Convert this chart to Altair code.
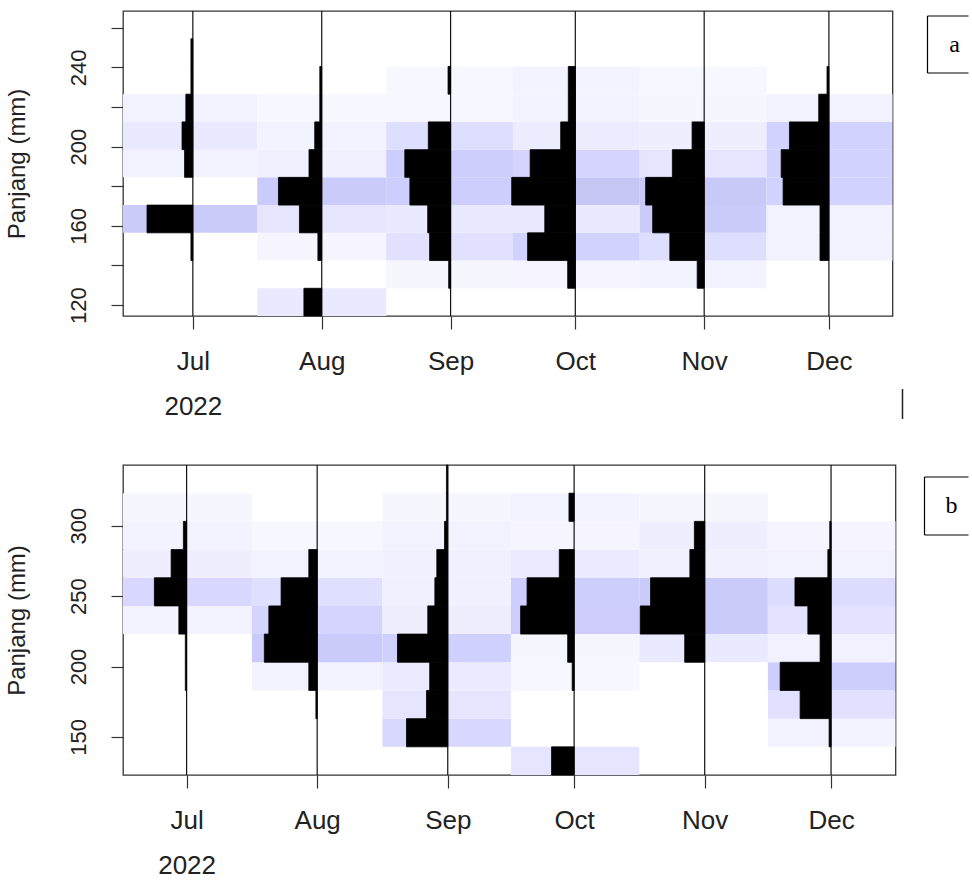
import altair as alt
import pandas as pd

# ---------------- data ----------------
SAMPLE_DATES = ["2022-07-01", "2022-08-01", "2022-09-01", "2022-10-01", "2022-11-01", "2022-12-01"]
MONTH_NAMES = ["Jul", "Aug", "Sep", "Oct", "Nov", "Dec"]
YEAR = "2022"
Y_TITLE = "Panjang (mm)"

# Panel a : length-class mid points (mm)
A_CLASS_MID = [121.5, 135.5, 149.5, 163.5, 177.5, 191.5, 205.5, 219.5, 233.5, 247.5, 261.5]
# relative frequency per class (None = no catch) for Jul..Dec
A_FREQ_JUL = [None, None, 0.03, 0.72, None, 0.13, 0.17, 0.11, 0.03, 0.03, None]
A_FREQ_AUG = [0.28, None, 0.06, 0.35, 0.68, 0.20, 0.11, 0.03, 0.03, None, None]
A_FREQ_SEP = [None, 0.03, 0.33, 0.36, 0.64, 0.72, 0.35, None, 0.04, None, None]
A_FREQ_OCT = [None, 0.12, 0.75, 0.48, 1.00, 0.71, 0.23, 0.11, 0.11, None, None]
A_FREQ_NOV = [None, 0.11, 0.54, 0.81, 0.92, 0.50, 0.19, None, None, None, None]
A_FREQ_DEC = [None, None, 0.14, 0.14, 0.72, 0.75, 0.62, 0.16, 0.03, None, None]
# restructured score (background shading) for Jul..Dec
A_SCORE_JUL = [0, 0, 0, 0.60, 0, 0.06, 0.15, 0.06, 0, 0, 0]
A_SCORE_AUG = [0.15, 0, 0.04, 0.20, 0.60, 0.08, 0.05, 0.02, 0, 0, 0]
A_SCORE_SEP = [0, 0.03, 0.25, 0.15, 0.55, 0.55, 0.30, 0.02, 0.02, 0, 0]
A_SCORE_OCT = [0, 0.04, 0.48, 0.15, 0.70, 0.45, 0.12, 0.05, 0.05, 0, 0]
A_SCORE_NOV = [0, 0.05, 0.30, 0.60, 0.65, 0.20, 0.10, 0.03, 0.02, 0, 0]
A_SCORE_DEC = [0, 0, 0.06, 0.06, 0.48, 0.48, 0.48, 0.06, 0, 0, 0]

# Panel b
B_CLASS_MID = [133, 153, 173, 193, 213, 233, 253, 273, 293, 313, 333]
B_FREQ_JUL = [None, None, None, 0.02, 0.02, 0.12, 0.50, 0.24, 0.05, None, None]
B_FREQ_AUG = [None, None, 0.02, 0.13, 0.82, 0.75, 0.56, 0.13, None, None, None]
B_FREQ_SEP = [None, 0.64, 0.33, 0.28, 0.78, 0.31, 0.20, 0.17, 0.05, 0.02, 0.02]
B_FREQ_OCT = [0.35, None, None, 0.03, 0.10, 0.83, 0.73, 0.23, None, 0.08, None]
B_FREQ_NOV = [None, None, None, None, 0.31, 1.00, 0.84, 0.23, 0.16, None, None]
B_FREQ_DEC = [None, 0.03, 0.48, 0.79, 0.17, 0.36, 0.56, 0.05, 0.02, None, None]
B_SCORE_JUL = [0, 0, 0, 0, 0, 0.05, 0.40, 0.10, 0.05, 0.03, 0]
B_SCORE_AUG = [0, 0, 0, 0.05, 0.60, 0.45, 0.28, 0.06, 0.02, 0, 0]
B_SCORE_SEP = [0, 0.40, 0.20, 0.13, 0.52, 0.10, 0.08, 0.08, 0.06, 0.03, 0]
B_SCORE_OCT = [0.20, 0, 0, 0.02, 0.03, 0.58, 0.55, 0.13, 0.04, 0.05, 0]
B_SCORE_NOV = [0, 0, 0, 0, 0.15, 0.60, 0.60, 0.08, 0.10, 0.03, 0]
B_SCORE_DEC = [0, 0.05, 0.25, 0.55, 0.07, 0.22, 0.32, 0.06, 0.04, 0, 0]

A_Y_TICKS = [120, 140, 160, 180, 200, 220, 240, 260]
B_Y_TICKS = [150, 200, 250, 300]

# ---------------- styling constants ----------------
BAR_SPAN = 15.3          # days that a relative frequency of 1 occupies
FONT = "Liberation Sans"
TXT = "#222222"
LEFT_PAD = 4

DAY0 = pd.Timestamp("2022-01-01")
DAYS = [(pd.Timestamp(d) - DAY0).days for d in SAMPLE_DATES]

label_parts = []
for i, (d, m) in enumerate(zip(DAYS, MONTH_NAMES)):
    lab = f"['{m}', '{YEAR}']" if i == 0 else f"'{m}'"
    label_parts.append(f"datum.value == {d} ? {lab} : ")
X_LABEL_EXPR = "".join(label_parts) + "''"


def bars_table(mids, freqs):
    bw = mids[1] - mids[0]
    rows = []
    for day, month, fr in zip(DAYS, MONTH_NAMES, freqs):
        for mid, v in zip(mids, fr):
            if v is None:
                continue
            rows.append(dict(month=month, day=day, lo=mid - bw / 2, hi=mid + bw / 2,
                             rel=v, left=day - v * BAR_SPAN))
    return pd.DataFrame(rows)


def shade_table(mids, scores, xdom):
    bw = mids[1] - mids[0]
    edges = [xdom[0]] + [(a + b) / 2 for a, b in zip(DAYS[:-1], DAYS[1:])] + [xdom[1]]
    rows = []
    for i, (month, sc) in enumerate(zip(MONTH_NAMES, scores)):
        for mid, s in zip(mids, sc):
            if s <= 0:
                continue
            rows.append(dict(month=month, x0=edges[i], x1=edges[i + 1],
                             lo=mid - bw / 2, hi=mid + bw / 2, score=s))
    return pd.DataFrame(rows)


def panel(mids, freqs, scores, ydom, yticks, ylabel_expr, xdom, width, height,
          tag, box, tag_xy, extra_rule=None):
    xscale = alt.Scale(domain=xdom, nice=False, zero=False)
    yscale = alt.Scale(domain=ydom, nice=False, zero=False)
    xaxis = alt.Axis(values=DAYS, labelExpr=X_LABEL_EXPR, grid=False, domain=False,
                     tickSize=13, tickColor="#333333", tickWidth=1.2,
                     labelFontSize=26, labelPadding=19, labelLineHeight=45,
                     labelColor=TXT, labelFont=FONT, labelBaseline="top",
                     labelAlign="center", labelOverlap=False, labelFlush=False)
    yaxis = alt.Axis(values=yticks, labelExpr=ylabel_expr, grid=False, domain=False,
                     tickSize=12, tickColor="#333333", tickWidth=1.2,
                     labelAngle=270, labelAlign="center", labelBaseline="bottom",
                     labelFontSize=22, labelPadding=21, labelColor=TXT, labelFont=FONT,
                     labelOverlap=False, labelFlush=False,
                     title=Y_TITLE,
                     titleFontSize=24, titleFont=FONT, titleFontWeight="normal",
                     titleColor=TXT, titlePadding=38)

    sdf = shade_table(mids, scores, xdom)
    bdf = bars_table(mids, freqs)
    mdf = pd.DataFrame({"day": DAYS, "month": MONTH_NAMES})

    shade = alt.Chart(sdf).mark_rect(strokeWidth=0).encode(
        x=alt.X("x0:Q", scale=xscale, axis=xaxis, title=None),
        x2="x1:Q",
        y=alt.Y("lo:Q", scale=yscale, axis=yaxis, title=Y_TITLE),
        y2="hi:Q",
        color=alt.Color("score:Q", legend=None,
                        scale=alt.Scale(type="pow", exponent=0.7, domain=[0, 0.7],
                                        range=["#ffffff", "#c6c6f5"], clamp=True)),
    )
    rules = alt.Chart(mdf).mark_rule(color="#111111", strokeWidth=1.2).encode(
        x=alt.X("day:Q", title=None)
    )
    bars = alt.Chart(bdf).mark_rect(color="black", stroke="black", strokeWidth=0.8).encode(
        x=alt.X("left:Q", title=None), x2="day:Q",
        y=alt.Y("lo:Q", title=Y_TITLE), y2="hi:Q",
    )
    one = pd.DataFrame({"k": [0]})
    bx0, by0, bx1, by1 = box
    box_layers = [
        alt.Chart(one).mark_rule(color="black", strokeWidth=1.2).encode(
            x=alt.value(bx0), y=alt.value(by0), y2=alt.value(by1)),
        alt.Chart(one).mark_rule(color="black", strokeWidth=1.2).encode(
            x=alt.value(bx0), x2=alt.value(bx1), y=alt.value(by0)),
        alt.Chart(one).mark_rule(color="black", strokeWidth=1.2).encode(
            x=alt.value(bx0), x2=alt.value(bx1), y=alt.value(by1)),
        alt.Chart(one).mark_text(font="Liberation Serif", fontSize=24, color="black",
                                 align="center", baseline="middle").encode(
            x=alt.value(tag_xy[0]), y=alt.value(tag_xy[1]), text=alt.value(tag)),
    ]
    layers = [shade, rules, bars] + box_layers
    if extra_rule is not None:
        ex, ey0, ey1 = extra_rule
        layers.append(alt.Chart(one).mark_rule(color="#222222", strokeWidth=1.5).encode(
            x=alt.value(ex), y=alt.value(ey0), y2=alt.value(ey1)))
    return alt.layer(*layers).properties(width=width, height=height)


PLOT_LEFT = 123.5
A_XDOM = [164.2, 349.3]
B_XDOM = [165.9, 349.3]

pa = panel(A_CLASS_MID,
           [A_FREQ_JUL, A_FREQ_AUG, A_FREQ_SEP, A_FREQ_OCT, A_FREQ_NOV, A_FREQ_DEC],
           [A_SCORE_JUL, A_SCORE_AUG, A_SCORE_SEP, A_SCORE_OCT, A_SCORE_NOV, A_SCORE_DEC],
           [114.5, 268.5], A_Y_TICKS, "datum.value % 40 == 0 ? datum.label : ''",
           A_XDOM, 893 - PLOT_LEFT, 305, "a",
           (928 - PLOT_LEFT, 5, 969 - PLOT_LEFT, 62), (955 - PLOT_LEFT, 34),
           extra_rule=(903 - PLOT_LEFT, 378, 408))
pb = panel(B_CLASS_MID,
           [B_FREQ_JUL, B_FREQ_AUG, B_FREQ_SEP, B_FREQ_OCT, B_FREQ_NOV, B_FREQ_DEC],
           [B_SCORE_JUL, B_SCORE_AUG, B_SCORE_SEP, B_SCORE_OCT, B_SCORE_NOV, B_SCORE_DEC],
           [123, 343], B_Y_TICKS, "datum.label",
           B_XDOM, 896 - PLOT_LEFT, 310, "b",
           (925 - PLOT_LEFT, 12, 969 - PLOT_LEFT, 70), (952 - PLOT_LEFT, 41))

chart = alt.vconcat(pa, pb, spacing=42).properties(
    padding={"left": LEFT_PAD, "top": 9, "right": 0, "bottom": 0}
).configure_view(stroke="#333333", strokeWidth=1.3)

chart.save("out.html", embed_options={"renderer": "svg", "actions": False})
